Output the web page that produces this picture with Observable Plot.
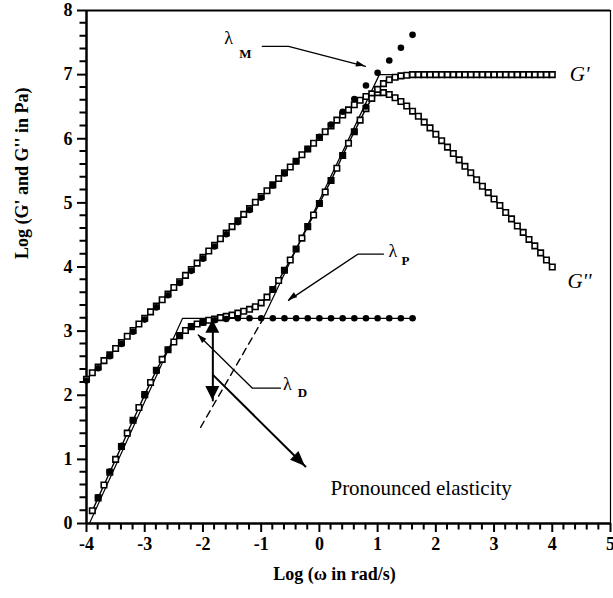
<!DOCTYPE html>
<html><head><meta charset="utf-8">
<script src="https://cdn.jsdelivr.net/npm/d3@7"></script>
<script src="https://cdn.jsdelivr.net/npm/@observablehq/plot@0.6"></script>
<style>html,body{margin:0;padding:0;background:#fff}</style>
</head><body><div id="chart"></div>
<script>
// ---- tick labels ----
const xTicks = [-4, -3, -2, -1, 0, 1, 2, 3, 4, 5];
const yTicks = [0, 1, 2, 3, 4, 5, 6, 7, 8];
const xMinor = [-3.8,-3.6,-3.4,-3.2,-2.8,-2.6,-2.4,-2.2,-1.8,-1.6,-1.4,-1.2,-0.8,-0.6,-0.4,-0.2,
  0.2,0.4,0.6,0.8,1.2,1.4,1.6,1.8,2.2,2.4,2.6,2.8,3.2,3.4,3.6,3.8,4.2,4.4,4.6,4.8];
const yMinor = [0.2,0.4,0.6,0.8,1.2,1.4,1.6,1.8,2.2,2.4,2.6,2.8,3.2,3.4,3.6,3.8,4.2,4.4,4.6,4.8,
  5.2,5.4,5.6,5.8,6.2,6.4,6.6,6.8,7.2,7.4,7.6,7.8];

// ---- measured data (log omega, log modulus) ----
const omega = [-4.0,-3.9,-3.8,-3.7,-3.6,-3.5,-3.4,-3.3,-3.2,-3.1,-3.0,-2.9,-2.8,-2.7,-2.6,-2.5,-2.4,-2.3,-2.2,-2.1,
  -2.0,-1.9,-1.8,-1.7,-1.6,-1.5,-1.4,-1.3,-1.2,-1.1,-1.0,-0.9,-0.8,-0.7,-0.6,-0.5,-0.4,-0.3,-0.2,-0.1,
  0.0,0.1,0.2,0.3,0.4,0.5,0.6,0.7,0.8,0.9,1.0,1.1,1.2,1.3,1.4,1.5,1.6,1.7,1.8,1.9,
  2.0,2.1,2.2,2.3,2.4,2.5,2.6,2.7,2.8,2.9,3.0,3.1,3.2,3.3,3.4,3.5,3.6,3.7,3.8,3.9,4.0];
const gLoss = [2.25,2.35,2.44,2.54,2.63,2.73,2.82,2.92,3.01,3.11,3.20,3.30,3.39,3.49,3.58,3.68,3.77,3.87,3.96,4.06,
  4.15,4.25,4.34,4.44,4.53,4.63,4.72,4.82,4.91,5.01,5.10,5.19,5.28,5.38,5.47,5.56,5.65,5.75,5.84,5.93,
  6.02,6.11,6.20,6.29,6.37,6.45,6.53,6.60,6.66,6.70,6.72,6.72,6.69,6.64,6.58,6.51,6.43,6.35,6.26,6.17,
  6.07,5.97,5.87,5.77,5.67,5.57,5.47,5.36,5.26,5.16,5.06,4.96,4.85,4.75,4.64,4.54,4.43,4.33,4.22,4.11,4.00];
const omegaStorage = omega.slice(1);
const gStorage = [0.20,0.40,0.60,0.80,1.00,1.20,1.41,1.61,1.81,2.01,2.20,2.39,2.56,2.71,2.83,2.93,3.01,3.07,3.11,
  3.14,3.17,3.19,3.21,3.23,3.25,3.28,3.31,3.34,3.38,3.44,3.53,3.65,3.79,3.95,4.11,4.28,4.45,4.63,4.81,
  4.99,5.17,5.35,5.54,5.74,5.93,6.11,6.29,6.47,6.63,6.77,6.86,6.92,6.96,6.98,6.99,7.00,7.00,7.00,7.00,
  7.00,7.00,7.00,7.00,7.00,7.00,7.00,7.00,7.00,7.00,7.00,7.00,7.00,7.00,7.00,7.00,7.00,7.00,7.00,7.00,7.00];

// ---- filled symbols ----
const omegaF1 = [-4.0,-3.8,-3.6,-3.4,-3.2,-3.0,-2.8,-2.6,-2.4,-2.2,-2.0,-1.8,-1.6,-1.4,-1.2,-1.0,-0.8,-0.6,-0.4,-0.2,0.0,0.2,0.4,0.6,0.8,1.0,1.2,1.4,1.6];
const gF1 = [2.23,2.42,2.61,2.80,2.99,3.18,3.37,3.56,3.75,3.94,4.13,4.32,4.51,4.70,4.89,5.08,5.27,5.46,5.65,5.84,6.03,6.22,6.42,6.62,6.83,7.03,7.22,7.42,7.62];
const omegaF2 = [-3.8,-3.6,-3.4,-3.2,-3.0,-2.8,-2.6,-2.4,-2.2,-2.0,-1.8,-1.6,-1.4,-1.2,-1.0,-0.8,-0.6,-0.4,-0.2,0.0,0.2,0.4,0.6,0.8,1.0,1.2,1.4,1.6];
const gF2 = [0.41,0.81,1.21,1.61,2.00,2.38,2.71,2.93,3.07,3.13,3.17,3.19,3.20,3.20,3.20,3.20,3.20,3.20,3.20,3.20,3.20,3.20,3.20,3.20,3.20,3.20,3.20,3.20];
const omegaF3 = [-0.8,-0.6,-0.4,-0.2,0.0,0.2,0.4,0.6,0.8];
const gF3 = [3.65,3.95,4.28,4.63,4.99,5.35,5.74,6.11,6.50];

// ---- asymptote construction lines ----
const asym1X = [-3.95, -2.35, 1.65], asym1Y = [0.0, 3.2, 3.2];
const asym2X = [-0.98, 1.03, 4.0], asym2Y = [3.17, 7.0, 7.0];
const dashX = [-2.04, -0.98], dashY = [1.5, 3.17];

// ---- annotation arrows ----
const arrowM = {x: [-0.98, -0.53, 0.79], y: [7.44, 7.44, 7.13]};
const arrowP = {x: [1.10, 0.66, -0.53], y: [4.20, 4.20, 3.48]};
const arrowD = {x: [-0.67, -1.15, -2.08], y: [2.11, 2.11, 2.94]};
const arrowV = {x: [-1.83, -1.83], y: [3.17, 1.92]};
const arrowL = {x: [-1.82, -0.24], y: [2.31, 0.89]};

const pts = (xs, ys) => xs.map((x, i) => ({x, y: ys[i]}));
const lossData = pts(omega, gLoss);
const storData = pts(omegaStorage, gStorage);

const heads = [
  {a: arrowM, from: 1, to: 2, len: 9, w: 6},
  {a: arrowP, from: 1, to: 2, len: 9, w: 6},
  {a: arrowD, from: 1, to: 2, len: 9, w: 6},
  {a: arrowV, from: 1, to: 0, len: 13, w: 14},
  {a: arrowV, from: 0, to: 1, len: 14, w: 14},
  {a: arrowL, from: 0, to: 1, len: 15, w: 12}
];
function headMark(index, scales) {
  const g = d3.create("svg:g");
  for (const h of heads) {
    const x1 = scales.x(h.a.x[h.from]), y1 = scales.y(h.a.y[h.from]);
    const x2 = scales.x(h.a.x[h.to]), y2 = scales.y(h.a.y[h.to]);
    const L = Math.hypot(x2 - x1, y2 - y1), ux = (x2 - x1) / L, uy = (y2 - y1) / L;
    const bx = x2 - ux * h.len, by = y2 - uy * h.len, px = -uy * h.w / 2, py = ux * h.w / 2;
    g.append("path").attr("d", `M${x2},${y2}L${bx + px},${by + py}L${bx - px},${by - py}Z`).attr("fill", "black");
  }
  return g.node();
}
// minor ticks, positioned through the plot's own scales
function minorTickMark(index, scales) {
  const g = d3.create("svg:g");
  const y0 = scales.y(0), x0 = scales.x(-4);
  let d = "";
  for (const t of xMinor) { const sx = scales.x(t); d += `M${sx},${y0}V${y0 + 6.5}`; }
  for (const t of yMinor) { const sy = scales.y(t); d += `M${x0 - 6.5},${sy}H${x0}`; }
  g.append("path").attr("d", d).attr("fill", "none").attr("stroke", "black").attr("stroke-width", 2);
  return g.node();
}

const serif = "'Liberation Serif', 'Times New Roman', serif";

const chart = Plot.plot({
  width: 613, height: 598,
  marginLeft: 86, marginRight: 3, marginTop: 10, marginBottom: 75,
  x: {domain: [-4, 5]},
  y: {domain: [0, 8]},
  style: {fontFamily: serif, background: "white", color: "black"},
  marks: [
    Plot.axisX(xTicks, {tickSize: 9, tickPadding: 5, tickFormat: d => String(d), label: null,
      fontSize: 18, fontWeight: "bold", strokeWidth: 2}),
    Plot.axisY(yTicks, {tickSize: 9, tickPadding: 5, tickFormat: d => String(d), label: null,
      fontSize: 18, fontWeight: "bold", strokeWidth: 2}),
    minorTickMark,
    Plot.ruleY([0], {strokeWidth: 2.5}),
    Plot.ruleX([-4], {strokeWidth: 2.5}),
    Plot.ruleY([8], {strokeWidth: 2}),
    Plot.ruleX([5], {strokeWidth: 1.2}),
    Plot.text(["Log (ω in rad/s)"], {frameAnchor: "bottom", dx: -14, dy: 56, fontSize: 18, fontWeight: "bold"}),
    Plot.text(["Log (G' and G'' in Pa)"], {frameAnchor: "left", rotate: -90, dx: -64, dy: -8, fontSize: 18, fontWeight: "bold"}),
    Plot.line(pts(asym1X, asym1Y), {x: "x", y: "y", strokeWidth: 1.2}),
    Plot.line(pts(asym2X, asym2Y), {x: "x", y: "y", strokeWidth: 1.2}),
    Plot.line(pts(dashX, dashY), {x: "x", y: "y", strokeWidth: 1.4, strokeDasharray: "7,5"}),
    Plot.line(lossData, {x: "x", y: "y", strokeWidth: 1.4}),
    Plot.line(storData, {x: "x", y: "y", strokeWidth: 1.4}),
    Plot.dot(lossData, {x: "x", y: "y", symbol: "square", r: 3.1, fill: "white", stroke: "black", strokeWidth: 1.6}),
    Plot.dot(storData, {x: "x", y: "y", symbol: "square", r: 3.1, fill: "white", stroke: "black", strokeWidth: 1.6}),
    Plot.dot(pts(omegaF1, gF1), {x: "x", y: "y", r: 3.3, fill: "black"}),
    Plot.dot(pts(omegaF2, gF2), {x: "x", y: "y", r: 3.3, fill: "black"}),
    Plot.dot(pts(omegaF3, gF3), {x: "x", y: "y", r: 3.1, fill: "black"}),
    Plot.line(pts(arrowM.x, arrowM.y), {x: "x", y: "y", strokeWidth: 1.3}),
    Plot.line(pts(arrowP.x, arrowP.y), {x: "x", y: "y", strokeWidth: 1.3}),
    Plot.line(pts(arrowD.x, arrowD.y), {x: "x", y: "y", strokeWidth: 1.3}),
    Plot.line(pts(arrowV.x, arrowV.y), {x: "x", y: "y", strokeWidth: 2}),
    Plot.line(pts(arrowL.x, arrowL.y), {x: "x", y: "y", strokeWidth: 2}),
    headMark,
    Plot.text([{x: -1.56, y: 7.56, t: "λ"}, {x: 1.26, y: 4.24, t: "λ"}, {x: -0.55, y: 2.17, t: "λ"}],
      {x: "x", y: "y", text: "t", fontSize: 18}),
    Plot.text([{x: -1.27, y: 7.33, t: "M"}, {x: 1.48, y: 4.09, t: "P"}, {x: -0.29, y: 2.03, t: "D"}],
      {x: "x", y: "y", text: "t", fontSize: 13, fontWeight: "bold"}),
    Plot.text([{x: 4.3, y: 7.0, t: "G'"}, {x: 4.26, y: 3.78, t: "G''"}],
      {x: "x", y: "y", text: "t", fontSize: 21, fontStyle: "italic", textAnchor: "start"}),
    Plot.text([{x: 0.19, y: 0.55, t: "Pronounced elasticity"}],
      {x: "x", y: "y", text: "t", fontSize: 21, textAnchor: "start"})
  ]
});
document.getElementById("chart").appendChild(chart);
</script></body></html>
